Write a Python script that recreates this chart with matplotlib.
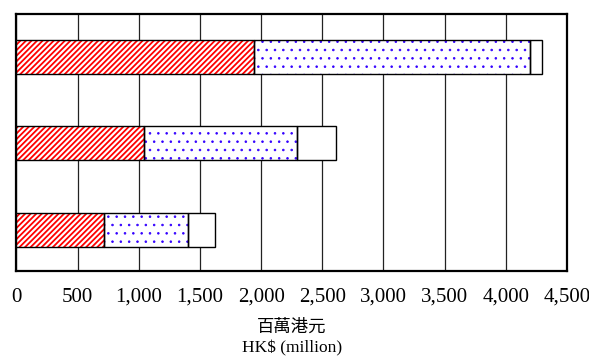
import numpy as np
import matplotlib
matplotlib.use("Agg")
import matplotlib.pyplot as plt

# HK$ million, three stacked components per row (top row first)
rows = ["A", "B", "C"]
part_hatched = [1945, 1040, 715]
part_dotted = [2250, 1250, 690]
part_plain = [105, 320, 220]
x_ticks = [0, 500, 1000, 1500, 2000, 2500, 3000, 3500, 4000, 4500]
x_label = "百萬港元\nHK$ (million)"

plt.rcParams["font.family"] = ["Liberation Serif", "Noto Sans CJK TC"]

fig = plt.figure(figsize=(5.89, 3.60), dpi=100)
ax = fig.add_axes([0.028, 0.247, 0.9345, 0.714])

y = np.arange(len(rows))[::-1]
h = 0.394
hatched = np.array(part_hatched)
dotted = np.array(part_dotted)
plain = np.array(part_plain)

# hatch colour follows the edge colour, so draw the patterned fill first
# and put the black outline on top as a separate unfilled bar
with plt.rc_context({"hatch.linewidth": 1.3}):
    ax.barh(y, hatched, h, color="white", edgecolor="#ff0000",
            hatch="//////", linewidth=0, zorder=3)
with plt.rc_context({"hatch.linewidth": 0.6}):
    ax.barh(y, dotted, h, left=hatched, color="white", edgecolor="#3300ff",
            hatch="..", linewidth=0, zorder=3)
ax.barh(y, plain, h, left=hatched + dotted, color="white",
        edgecolor="black", linewidth=1.0, zorder=3)
ax.barh(y, hatched, h, fill=False, edgecolor="black", linewidth=1.0, zorder=4)
ax.barh(y, dotted, h, left=hatched, fill=False, edgecolor="black",
        linewidth=1.0, zorder=4)

ax.set_xlim(0, 4500)
ax.set_ylim(-0.481, 2.499)
ax.set_xticks(x_ticks)
ax.set_xticklabels([f"{v:,}" for v in x_ticks], fontsize=15)
ax.set_yticks([])
ax.tick_params(axis="x", length=0, pad=12)
ax.xaxis.grid(True, color="#222222", linewidth=0.9, zorder=1)
ax.set_axisbelow(True)
for s in ax.spines.values():
    s.set_linewidth(1.6)
    s.set_color("black")

ax.set_xlabel(x_label, fontsize=12.5, linespacing=1.4, labelpad=9)

fig.savefig("out.png", dpi=100)
